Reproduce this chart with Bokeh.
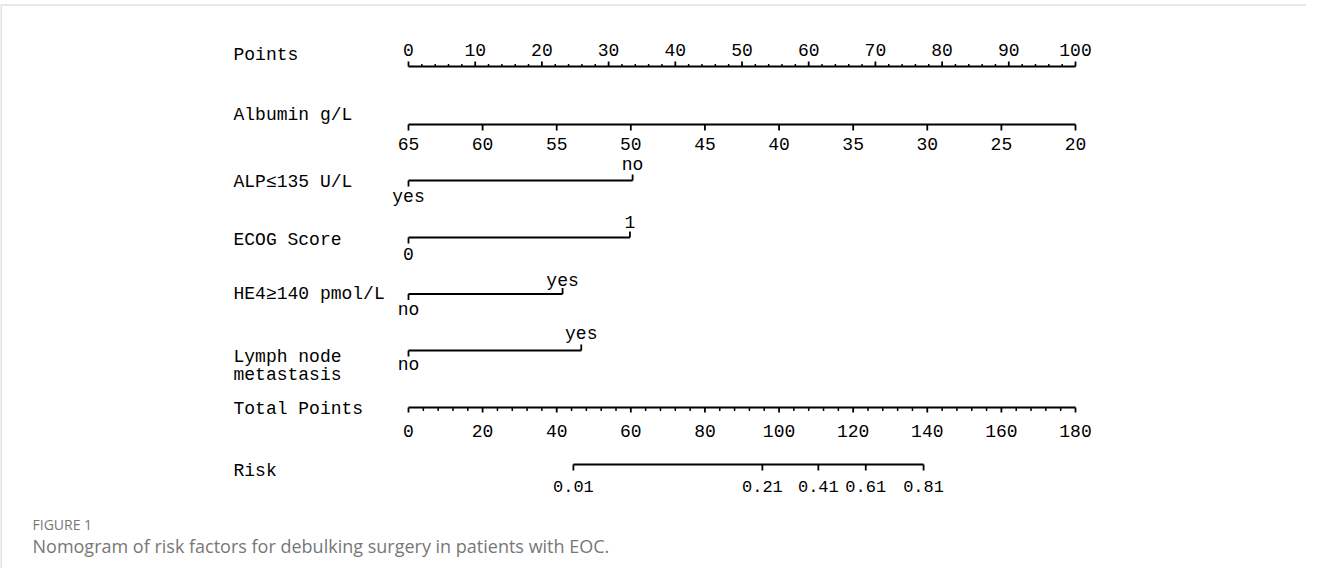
from bokeh.plotting import figure
from bokeh.models import Range1d
from bokeh.core.properties import value
from bokeh.embed import file_html
from bokeh.resources import INLINE

# ---------------- data ----------------
points_ticks = [0, 10, 20, 30, 40, 50, 60, 70, 80, 90, 100]
points_minor = [v for v in range(0, 101, 2) if v % 10 != 0]

albumin_vals = [65, 60, 55, 50, 45, 40, 35, 30, 25, 20]   # 65 -> 0 points, 20 -> 100 points

alp_levels = ["yes", "no"]
alp_points = [0, 33.6]
ecog_levels = ["0", "1"]
ecog_points = [0, 33.2]
he4_levels = ["no", "yes"]
he4_points = [0, 23.1]
lymph_levels = ["no", "yes"]
lymph_points = [0, 25.9]

total_ticks = [0, 20, 40, 60, 80, 100, 120, 140, 160, 180]
total_minor = [v for v in range(0, 181, 4) if v % 20 != 0]
total_max = 180

risk_labels = ["0.01", "0.21", "0.41", "0.61", "0.81"]
risk_total = [44.5, 95.5, 110.6, 123.4, 139.0]

titles = ["Points", "Albumin g/L", "ALP\u2264135 U/L", "ECOG Score",
          "HE4\u2265140 pmol/L", "Lymph node", "metastasis", "Total Points", "Risk"]

# ---------------- layout ----------------
W, H, OFF = 1306, 568, 8
X0_PX, X100_PX = 416, 1083
S = (X100_PX - X0_PX) / 100.0
FONT = "Liberation Mono"
FS = "18px"
LW = 1.8


def px(xpix):
    return (xpix - X0_PX) / S


def tp(v):
    return v * 100.0 / total_max


def alb(v):
    return (65 - v) / 45.0 * 100.0


p = figure(width=W, height=H, output_backend="svg", toolbar_location=None,
           x_range=Range1d(px(OFF), px(OFF + W)), y_range=Range1d(OFF + H, OFF),
           x_axis_type=None, y_axis_type=None, min_border=0,
           outline_line_color=None, background_fill_color="white",
           border_fill_color="white")
p.grid.visible = False


def seg(x0, y0, x1, y1, color="black", lw=LW):
    p.segment(x0=x0, y0=y0, x1=x1, y1=y1, line_color=color, line_width=lw)


def ticks(xs, y, length, lw=LW):
    seg(xs, [y] * len(xs), xs, [y + length] * len(xs), lw=lw)


def labels(xs, ys, txt, align="center", size=FS, font=FONT, color="black", style="normal"):
    p.text(x=xs, y=ys, text=txt, text_font=value(font), text_font_size=size,
           text_align=align, text_baseline="middle", text_color=color,
           text_font_style=style)


# frame border (light grey, top and left)
seg([px(8.5), px(8.5)], [12.5, 12.5], [px(OFF + W), px(8.5)], [12.5, OFF + H], color="#cfcfcf", lw=1.2)

# titles
title_y = [62, 122, 189, 247, 301, 364, 382, 416, 478]
labels([px(241)] * len(titles), title_y, titles, align="left")

# Points axis
yP = 74
seg([0], [yP], [100], [yP])
ticks(points_ticks, yP, -5)
ticks(points_minor, yP, -2.5, lw=1.5)
labels(points_ticks, [57] * len(points_ticks), [str(v) for v in points_ticks])

# Albumin axis
yA = 132
seg([alb(albumin_vals[0])], [yA], [alb(albumin_vals[-1])], [yA])
ticks([alb(v) for v in albumin_vals], yA, 6)
labels([alb(v) for v in albumin_vals], [151] * len(albumin_vals), [str(v) for v in albumin_vals])


def cat_axis(pts, levels, y, y_above, y_below):
    seg([min(pts)], [y], [max(pts)], [y])
    ticks([pts[0]], y, 6)
    ticks([pts[1]], y, -6)
    labels([pts[0]], [y_below], [levels[0]])
    labels([pts[1]], [y_above], [levels[1]])


cat_axis(alp_points, alp_levels, 188, 172, 204)
cat_axis(ecog_points, ecog_levels, 245, 229, 261)
cat_axis(he4_points, he4_levels, 301.5, 288, 317)
cat_axis(lymph_points, lymph_levels, 358, 341, 372)

# Total points axis
yT = 415
seg([tp(0)], [yT], [tp(total_max)], [yT])
ticks([tp(v) for v in total_ticks], yT, 5)
ticks([tp(v) for v in total_minor], yT, 3.5, lw=1.5)
labels([tp(v) for v in total_ticks], [438] * len(total_ticks), [str(v) for v in total_ticks])

# Risk axis
yR = 472
seg([tp(risk_total[0])], [yR], [tp(risk_total[-1])], [yR])
ticks([tp(v) for v in risk_total], yR, 6)
labels([tp(v) for v in risk_total], [494] * len(risk_total), risk_labels, size="17px")

# caption
labels([px(40)], [532], ["FIGURE 1"], align="left", size="14px", font="Open Sans", color="#777777")
labels([px(40)], [553], ["Nomogram of risk factors for debulking surgery in patients with EOC."],
       align="left", size="18px", font="Open Sans", color="#777777")

open("out.html", "w").write(file_html(p, INLINE))
